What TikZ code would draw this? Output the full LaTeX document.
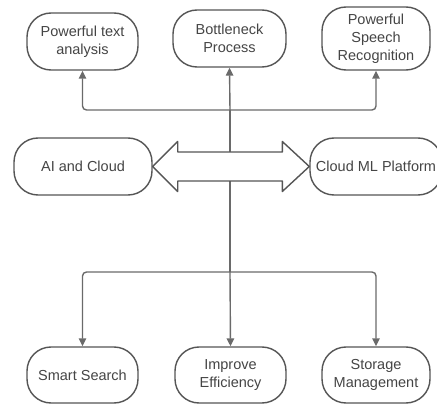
\documentclass[tikz,border=0pt]{standalone}
\usepackage{fontspec}
\setmainfont{Liberation Sans}
\usetikzlibrary{arrows.meta,calc}
\definecolor{boxline}{HTML}{555555}
\definecolor{connline}{HTML}{6A6A6A}
\definecolor{txt}{HTML}{454545}
\tikzset{
  box/.style={draw=boxline, line width=1.4pt, rounded corners=24pt, fill=white,
    align=center, text=txt, inner sep=2pt, minimum height=57pt,
    font=\fontsize{14.5}{18}\selectfont},
  conn/.style={draw=connline, line width=1.4pt, rounded corners=4pt},
  tip/.style={-{Triangle[length=8pt,width=7.5pt]}}
}
\begin{document}
\begin{tikzpicture}[x=1pt,y=1pt]
\useasboundingbox (0,0) rectangle (437,405);
\clip (0,0) rectangle (437,405);
% top row
\node[box, minimum width=111pt] (t1) at (82.5,363.5) {Powerful text\\analysis};
\node[box, minimum width=113pt] (t2) at (229.5,366.5) {Bottleneck\\Process};
\node[box, minimum width=108pt, minimum height=63pt] (t3) at (376,366.5) {Powerful\\Speech\\Recognition};
% middle row
\node[box, minimum width=138pt] (ai) at (83,238.5) {AI and Cloud};
\node[box, minimum width=132pt, inner sep=0pt] (cm) at (376,238.5) {Cloud ML Platform};
% bottom row
\node[box, minimum width=111pt, minimum height=56pt] (b1) at (82.5,30) {Smart Search};
\node[box, minimum width=111pt, minimum height=56pt] (b2) at (230.5,30) {Improve\\Efficiency};
\node[box, minimum width=108pt, minimum height=56pt] (b3) at (376,30) {Storage\\Management};
% junctions
\coordinate (tj) at (230,295);
\coordinate (bj) at (230,133);
\coordinate (st) at ($(tj|-ai.east)+(0,14.5)$);
\coordinate (sb) at ($(tj|-ai.east)+(0,-14.5)$);
% central trunk (hidden behind the double arrow)
\draw[conn] (bj) -- (sb);
\draw[conn] (st) -- (tj);
% top arrows
\draw[conn, tip] (tj) -| (t1.south);
\draw[conn, tip] (tj) -| (t3.south);
\draw[conn, tip] (tj) -- (t2.south);
% bottom arrows
\draw[conn, tip] (bj) -| (b1.north);
\draw[conn, tip] (bj) -| (b3.north);
\draw[conn, tip] (bj) -- (b2.north);
% double arrow between AI and Cloud and Cloud ML Platform
\filldraw[draw=boxline, line width=1.4pt, fill=white, line join=round]
  (ai.east) -- ++(25,25) -- ++(0,-10.5) -- ($(cm.west)+(-27,14.5)$) -- ++(0,10.5)
  -- (cm.west) -- ++(-27,-25) -- ++(0,10.5) -- ($(ai.east)+(25,-14.5)$) -- ++(0,-10.5) -- cycle;
\end{tikzpicture}
\end{document}
